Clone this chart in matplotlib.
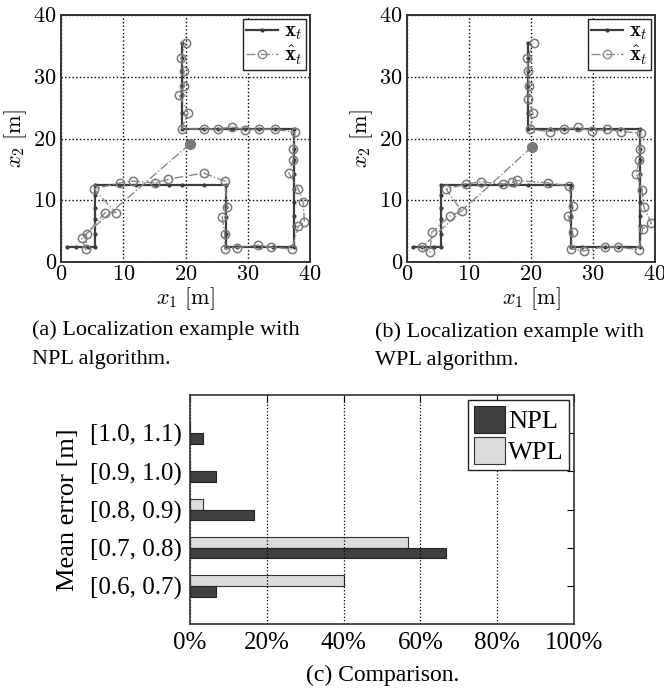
import matplotlib
matplotlib.use("Agg")
import matplotlib.pyplot as plt
import numpy as np

plt.rcParams['mathtext.fontset'] = 'cm'
plt.rcParams['font.family'] = ['Liberation Serif', 'DejaVu Serif']

# %% data
# true trajectory (same for both runs)
true_x = [1, 2.4, 4.3, 5.5, 5.5, 5.5, 5.5, 5.5, 5.5, 9.3, 12, 15.2, 17.3, 19.5, 23, 26.5,
          26.5, 26.5, 26.5, 26.5, 28.3, 32, 34, 37.5, 37.5, 37.5, 37.5, 37.5, 37.5, 37.5, 37.5,
          37.5, 34.3, 31.8, 29.6, 27.4, 25.3, 23.0, 19.5, 19.5, 19.5, 19.5, 19.5, 19.5, 19.5]
true_y = [2.5, 2.5, 2.5, 2.5, 4.6, 6.9, 8.8, 10.8, 12.5, 12.5, 12.5, 12.5, 12.5, 12.5, 12.5, 12.5,
          8.9, 7.3, 4.6, 2.5, 2.5, 2.5, 2.5, 2.5, 5.8, 7.5, 9.7, 11.9, 14.3, 16.5, 18.3,
          21.5, 21.5, 21.5, 21.5, 21.5, 21.5, 21.5, 21.5, 24.2, 27, 28.5, 31, 33.1, 35.5]

# NPL estimates (first point = initial guess, filled)
npl_x = [20.7, 3.3, 4.0, 4.1, 7.1, 8.8, 5.3, 9.4, 11.6, 15.1, 17.2, 22.9, 26.3, 26.7, 25.9,
         26.3, 26.3, 28.2, 31.7, 33.7, 37.1, 38.1, 39.1, 38.9, 38.1, 36.6, 37.3, 37.3, 37.6,
         34.3, 31.8, 29.6, 27.4, 25.3, 23.0, 19.4, 20.4, 19.0, 19.8, 19.7, 19.3, 20.1]
npl_y = [19.1, 3.9, 2.05, 4.5, 8.0, 8.0, 11.8, 12.8, 13.1, 12.8, 13.4, 14.4, 13.1, 8.9, 7.3,
         4.6, 2.1, 2.3, 2.75, 2.4, 2.1, 5.8, 6.5, 9.7, 11.9, 14.4, 16.5, 18.3, 21.0,
         21.5, 21.5, 21.4, 21.9, 21.5, 21.5, 21.6, 24.2, 27.0, 28.5, 31.0, 33.1, 35.5]

# WPL estimates (first point = initial guess, filled)
wpl_x = [20.2, 2.4, 3.7, 4.0, 6.9, 8.8, 6.3, 9.5, 12.0, 15.5, 17.0, 17.7, 22.8, 26.1, 26.7,
         26.0, 26.7, 26.5, 28.5, 32.0, 34.0, 37.4, 38.0, 39.4, 38.2, 37.9, 37.0, 37.4, 37.6,
         37.7, 34.5, 32.2, 29.9, 27.6, 25.3, 23.0, 19.9, 20.3, 19.5, 19.7, 19.5, 19.4, 20.5]
wpl_y = [18.7, 2.4, 1.6, 4.8, 7.4, 8.3, 11.8, 12.6, 13.0, 12.6, 12.9, 13.2, 12.8, 12.3, 9.1,
         7.5, 4.9, 2.1, 1.8, 2.5, 2.4, 2.0, 5.4, 6.3, 8.9, 11.6, 14.3, 16.5, 18.3,
         20.9, 21.1, 21.5, 21.2, 21.8, 21.5, 21.1, 21.5, 24.1, 26.4, 28.5, 30.9, 33.1, 35.4]

# comparison histogram
bins = ['[0.6, 0.7)', '[0.7, 0.8)', '[0.8, 0.9)', '[0.9, 1.0)', '[1.0, 1.1)']
npl_pct = [6.67, 66.67, 16.67, 6.67, 3.33]
wpl_pct = [40.0, 56.67, 3.33, 0, 0]

W, H = 664, 689
fig = plt.figure(figsize=(W/100, H/100), dpi=100)


def px(l, t, r, b):
    return [l/W, 1-b/H, (r-l)/W, (b-t)/H]


def traj_plot(ax, ex, ey):
    ax.plot(true_x, true_y, '-', color='#3c3c3c', lw=1.6, marker='.', ms=4, label=r'$\mathbf{x}_t$')
    ax.plot(ex, ey, '-.', color='#8a8a8a', lw=1.0, label='_nolegend_')
    ax.plot(ex[1:], ey[1:], 'o', color='#7a7a7a', mfc='none', ms=6, mew=1.1)
    ax.plot(ex[:1], ey[:1], 'o', color='#7a7a7a', ms=7)
    # legend proxy
    ax.plot([], [], '-.', color='#8a8a8a', marker='o', mfc='none', ms=6, lw=1.0,
            label=r'$\hat{\mathbf{x}}_t$')
    ax.set_xlim(0, 40)
    ax.set_ylim(0, 40)
    ticks = [0, 10, 20, 30, 40]
    ax.set_xticks(ticks, labels=[f'${t}$' for t in ticks], fontsize=16)
    ax.set_yticks(ticks, labels=[f'${t}$' for t in ticks], fontsize=16)
    ax.tick_params(direction='in', length=0, pad=3)
    ax.grid(True, color='k', ls=':', lw=1.0)
    for s in ax.spines.values():
        s.set_linewidth(1.4)
        s.set_color('#333333')
    ax.set_xlabel(r'$x_1\ [\mathrm{m}]$', fontsize=16, labelpad=0)
    ax.set_ylabel(r'$x_2\ [\mathrm{m}]$', fontsize=16, labelpad=3)
    leg = ax.legend(loc='upper right', fontsize=15, handlelength=1.5, borderpad=0.15,
                    labelspacing=0.05, handletextpad=0.3, borderaxespad=0.2,
                    fancybox=False, framealpha=1)
    leg.get_frame().set_edgecolor('#222222')
    leg.get_frame().set_linewidth(1.0)


ax1 = fig.add_axes(px(61, 15, 310, 262))
traj_plot(ax1, npl_x, npl_y)
ax2 = fig.add_axes(px(407, 15, 655, 262))
traj_plot(ax2, wpl_x, wpl_y)

fig.text(32/W, 1-330/H, '(a) Localization example with', fontsize=16, va='center', ha='left')
fig.text(32/W, 1-359/H, 'NPL algorithm.', fontsize=16, va='center', ha='left')
fig.text(375/W, 1-332/H, '(b) Localization example with', fontsize=16, va='center', ha='left')
fig.text(375/W, 1-360/H, 'WPL algorithm.', fontsize=16, va='center', ha='left')

# %% bar chart
ax3 = fig.add_axes(px(190, 395, 574, 624))
pos = np.arange(1, len(bins)+1)
hgt = 0.28
ax3.barh(pos + hgt/2, wpl_pct, height=hgt, color='#dcdcdc', edgecolor='#333333', lw=0.8, label='WPL')
ax3.barh(pos - hgt/2, npl_pct, height=hgt, color='#404040', edgecolor='#222222', lw=0.8, label='NPL')
ax3.set_xlim(0, 100)
ax3.set_ylim(0, 6)
ax3.set_yticks(pos, labels=bins, fontsize=18)
xt = [0, 20, 40, 60, 80, 100]
ax3.set_xticks(xt, labels=[f'{t}%' for t in xt], fontsize=18)
ax3.tick_params(direction='in', length=5, top=True, right=True, left=False, bottom=False, pad=6)
ax3.xaxis.grid(True, color='k', ls=':', lw=0.9)
for s in ax3.spines.values():
    s.set_linewidth(1.2)
    s.set_color('#333333')
ax3.set_ylabel('Mean error [m]', fontsize=19, labelpad=8)
h, l = ax3.get_legend_handles_labels()
leg = ax3.legend(h[::-1], l[::-1], loc='upper right', fontsize=19, handlelength=1.2, handleheight=1.2,
                 borderpad=0.2, labelspacing=0.15, handletextpad=0.1, borderaxespad=0.2,
                 fancybox=False, framealpha=1)
leg.get_frame().set_edgecolor('#222222')
leg.get_frame().set_linewidth(1.0)
fig.text(383/W, 1-675/H, '(c) Comparison.', fontsize=17, ha='center', va='center')

fig.savefig('out.png', dpi=100)
